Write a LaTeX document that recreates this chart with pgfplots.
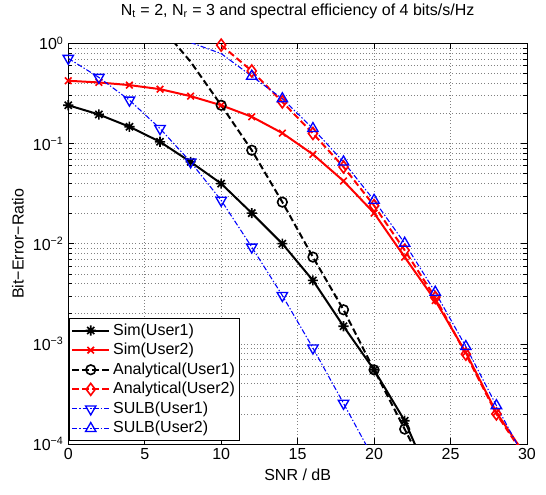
\documentclass[border=0pt]{standalone}
\usepackage{fontspec}
\setmainfont{Liberation Sans}
\usepackage{pgfplots}
\pgfplotsset{compat=1.18}
\usetikzlibrary{calc}
\pgfdeclareplotmark{mstar}{%
  \pgfpathmoveto{\pgfqpoint{-\pgfplotmarksize}{0pt}}\pgfpathlineto{\pgfqpoint{\pgfplotmarksize}{0pt}}%
  \pgfpathmoveto{\pgfqpoint{0pt}{-\pgfplotmarksize}}\pgfpathlineto{\pgfqpoint{0pt}{\pgfplotmarksize}}%
  \pgfpathmoveto{\pgfqpoint{-0.707\pgfplotmarksize}{-0.707\pgfplotmarksize}}\pgfpathlineto{\pgfqpoint{0.707\pgfplotmarksize}{0.707\pgfplotmarksize}}%
  \pgfpathmoveto{\pgfqpoint{-0.707\pgfplotmarksize}{0.707\pgfplotmarksize}}\pgfpathlineto{\pgfqpoint{0.707\pgfplotmarksize}{-0.707\pgfplotmarksize}}%
  \pgfusepathqstroke}

\begin{document}
\begin{tikzpicture}[font=\fontsize{12}{14}\selectfont]
\begin{semilogyaxis}[
  name=ax,
  scale only axis, width=344pt, height=300.5pt,
  xmin=0, xmax=30, ymin=1e-4, ymax=1,
  xtick={0,5,...,30},
  ytick={1e-4,1e-3,1e-2,1e-1,1},
  yticklabels={10\textsuperscript{−4},10\textsuperscript{−3},10\textsuperscript{−2},10\textsuperscript{−1},10\textsuperscript{0}},
  minor ytick={2e-4,3e-4,4e-4,5e-4,6e-4,7e-4,8e-4,9e-4,
               2e-3,3e-3,4e-3,5e-3,6e-3,7e-3,8e-3,9e-3,
               2e-2,3e-2,4e-2,5e-2,6e-2,7e-2,8e-2,9e-2,
               2e-1,3e-1,4e-1,5e-1,6e-1,7e-1,8e-1,9e-1},
  /pgf/number format/assume math mode=true,
  grid=both,
  major grid style={dotted, black!50, line width=0.5pt},
  minor grid style={dotted, black!50, line width=0.5pt},
  axis line style={line width=0.7pt},
  tick style={black, line width=0.5pt},
  xlabel={SNR / dB},
  ylabel={Bit−Error−Ratio},
  title={N\textsubscript{t} = 2, N\textsubscript{r} = 3 and spectral efficiency of 4 bits/s/Hz},
  title style={at={(0.5,1)}, anchor=base, yshift=15pt},
  legend style={at={(0,0)}, anchor=south west, xshift=0.5pt, yshift=2.5pt,
    draw=black, line width=0.6pt, fill=white, inner xsep=1.3pt, inner ysep=1.5pt,
    nodes={inner sep=2pt, text depth=0.2em},
    font=\fontsize{12}{14}\selectfont},
  legend cell align=left,
  legend image code/.code={\draw[mark repeat=2,mark phase=2,#1] plot coordinates {(0pt,0pt) (14pt,0pt) (28pt,0pt)};},
]
\addlegendimage{black, solid, line width=1.5pt, mark=mstar, mark size=3.8pt, mark options={solid, line width=1.2pt}}
\addlegendentry{Sim(User1)}
\addlegendimage{red, solid, line width=1.5pt, mark=x, mark size=3.5pt, mark options={solid, line width=1.2pt}}
\addlegendentry{Sim(User2)}
\addlegendimage{black, dash pattern=on 5pt off 2.5pt, line width=1.5pt, mark=o, mark size=3.6pt, mark options={solid, line width=1.2pt}}
\addlegendentry{Analytical(User1)}
\addlegendimage{red, dash pattern=on 5pt off 2.5pt, line width=1.5pt, mark=diamond, mark size=4.5pt, mark options={solid, line width=1.2pt}}
\addlegendentry{Analytical(User2)}
\addlegendimage{blue, dash pattern=on 4pt off 1.5pt on 1pt off 1.5pt, line width=0.8pt, mark=triangle, mark size=4.5pt, mark options={solid, rotate=180, line width=1pt}}
\addlegendentry{SULB(User1)}
\addlegendimage{blue, dash pattern=on 4pt off 1.5pt on 1pt off 1.5pt, line width=0.8pt, mark=triangle, mark size=4.5pt, mark options={solid, line width=1pt}}
\addlegendentry{SULB(User2)}

% Sim(User1)
\addplot[forget plot, black, solid, line width=1.5pt, mark=mstar, mark size=3.8pt, mark options={solid, line width=1.2pt}, mark indices={1,2,3,4,5,6,7,8,9,10,11,12}] coordinates {
(0,0.241) (2,0.195) (4,0.147) (6,0.104) (8,0.0655) (10,0.0398) (12,0.0202)
(14,0.0100) (16,0.0043) (18,0.0015) (20,5.5e-4) (22,1.71e-4) (24,3.4e-5)};
% Sim(User2)
\addplot[forget plot, red, solid, line width=1.5pt, mark=x, mark size=3.5pt, mark options={solid, line width=1.2pt}, mark indices={1,2,3,4,5,6,7,8,9,10,11,12,13,14,15}] coordinates {
(0,0.423) (2,0.407) (4,0.383) (6,0.349) (8,0.297) (10,0.241) (12,0.185) (14,0.127)
(16,0.078) (18,0.0423) (20,0.0202) (22,0.00735) (24,0.00271) (26,8.2e-4) (28,2.07e-4) (30,7.3e-5)};
% Analytical(User1)
\addplot[forget plot, black, dash pattern=on 5pt off 2.5pt, line width=1.5pt, mark=o, mark size=3.6pt, mark options={solid, line width=1.2pt}, mark indices={2,3,4,5,6,7,8,9}] coordinates {
(6,1.5) (8,0.655) (10,0.241) (12,0.0857) (14,0.026) (16,0.00735) (18,0.00219)
(20,5.5e-4) (22,1.41e-4) (24,3.5e-5)};
% Analytical(User2)
\addplot[forget plot, red, dash pattern=on 5pt off 2.5pt, line width=1.5pt, mark=diamond, mark size=4.5pt, mark options={solid, line width=1.2pt}, mark indices={1,2,3,4,5,6,7,8,9,10}] coordinates {
(10,0.96) (12,0.53) (14,0.26) (16,0.126) (18,0.0584) (20,0.024) (22,0.0086)
(24,0.0029) (26,7.9e-4) (28,2.0e-4) (30,7e-5)};
% SULB(User1)
\addplot[forget plot, blue, dash pattern=on 4pt off 1.5pt on 1pt off 1.5pt, line width=0.8pt, mark=triangle, mark size=4.5pt, mark options={solid, rotate=180, line width=1pt}, mark indices={1,2,3,4,5,6,7,8,9,10}] coordinates {
(0,0.708) (2,0.457) (4,0.271) (6,0.141) (8,0.0655) (10,0.0271) (12,0.00925)
(14,0.00304) (16,9.1e-4) (18,2.55e-4) (20,7e-5)};
% SULB(User2)
\addplot[forget plot, blue, dash pattern=on 4pt off 1.5pt on 1pt off 1.5pt, line width=0.8pt, mark=triangle, mark size=4.5pt, mark options={solid, line width=1pt}, mark indices={2,3,4,5,6,7,8,9,10,11}] coordinates {
(8,1.02) (10,0.79) (12,0.47) (14,0.28) (16,0.141) (18,0.0655) (20,0.0271)
(22,0.0101) (24,0.00328) (26,9.4e-4) (28,2.42e-4) (30,6.5e-5)};
\end{semilogyaxis}
\pgfresetboundingbox
\path ($(ax.south west)+(-51.2pt,-37.5pt)$) rectangle ($(ax.north east)+(14.25pt,32.5pt)$);
\end{tikzpicture}
\end{document}
